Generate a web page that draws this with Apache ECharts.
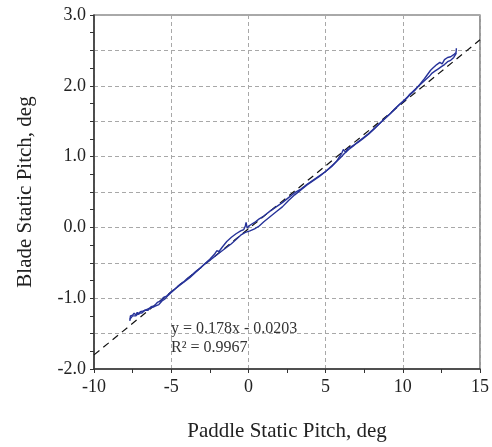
<!DOCTYPE html>
<html>
<head>
<meta charset="utf-8">
<script src="https://cdn.jsdelivr.net/npm/echarts@6/dist/echarts.min.js"></script>
<style>
  html, body { margin: 0; padding: 0; background: #fff; }
  #chart { width: 492px; height: 447px; }
</style>
</head>
<body>
<div id="chart"></div>
<script>
// Paddle vs blade static pitch, recorded while sweeping up then back down
const paddleUp = [-7.68, -7.64, -7.50, -7.40, -7.30, -7.20, -7.10, -7.00, -6.90, -6.80, -6.70, -6.60, -6.50, -6.40, -6.30, -6.20, -6.10, -6.00, -5.80, -5.60, -5.40, -5.20, -5.00, -4.80, -4.60, -4.40, -4.20, -4.00, -3.70, -3.40, -3.10, -2.80, -2.50, -2.20, -2.05, -1.95, -1.90, -1.70, -1.40, -1.10, -0.80, -0.50, -0.30, -0.20, -0.15, -0.08, 0.10, 0.40, 0.70, 1.00, 1.40, 1.80, 2.20, 2.60, 3.00, 3.40, 3.80, 4.20, 4.60, 5.00, 5.40, 5.70, 5.90, 6.05, 6.15, 6.30, 6.45, 6.60, 6.80, 7.10, 7.40, 7.80, 8.20, 8.60, 9.00, 9.40, 9.80, 10.10, 10.40, 10.60, 10.80, 11.10, 11.40, 11.60, 11.80, 11.95, 12.05, 12.20, 12.40, 12.55, 12.70, 12.90, 13.10, 13.30, 13.45, 13.47];
const bladeUp = [-1.32, -1.25, -1.24, -1.21, -1.24, -1.20, -1.23, -1.19, -1.21, -1.18, -1.20, -1.16, -1.18, -1.14, -1.16, -1.13, -1.14, -1.11, -1.09, -1.04, -1.01, -0.96, -0.92, -0.88, -0.84, -0.80, -0.77, -0.73, -0.68, -0.62, -0.57, -0.51, -0.45, -0.38, -0.33, -0.31, -0.34, -0.28, -0.20, -0.14, -0.09, -0.05, -0.03, 0.02, 0.07, -0.01, 0.03, 0.07, 0.12, 0.16, 0.23, 0.29, 0.35, 0.42, 0.49, 0.54, 0.61, 0.67, 0.73, 0.79, 0.86, 0.93, 1.00, 1.05, 1.10, 1.06, 1.12, 1.13, 1.16, 1.20, 1.25, 1.32, 1.40, 1.49, 1.57, 1.65, 1.74, 1.79, 1.86, 1.90, 1.94, 2.02, 2.10, 2.16, 2.22, 2.25, 2.23, 2.30, 2.33, 2.31, 2.37, 2.40, 2.41, 2.44, 2.47, 2.53];

const paddleDown = [13.47, 13.30, 13.10, 12.90, 12.70, 12.50, 12.30, 12.10, 11.90, 11.70, 11.40, 11.10, 10.80, 10.60, 10.45, 10.30, 10.10, 9.80, 9.50, 9.20, 8.90, 8.60, 8.30, 8.00, 7.70, 7.40, 7.10, 6.80, 6.50, 6.20, 5.90, 5.60, 5.30, 5.00, 4.60, 4.20, 3.80, 3.40, 3.00, 2.60, 2.20, 1.80, 1.40, 1.00, 0.70, 0.40, 0.10, -0.20, -0.50, -0.80, -1.10, -1.40, -1.70, -2.00, -2.30, -2.60, -2.90, -3.20, -3.50, -3.80, -4.10, -4.40, -4.70, -5.00, -5.30, -5.50, -5.70, -5.90, -6.10, -6.30, -6.50, -6.70, -6.90, -7.10, -7.30, -7.50, -7.68];
const bladeDown = [2.46, 2.40, 2.36, 2.34, 2.30, 2.27, 2.24, 2.21, 2.18, 2.13, 2.07, 2.01, 1.95, 1.91, 1.88, 1.84, 1.80, 1.74, 1.68, 1.61, 1.55, 1.49, 1.43, 1.37, 1.31, 1.26, 1.21, 1.15, 1.10, 1.04, 0.97, 0.91, 0.85, 0.79, 0.72, 0.66, 0.60, 0.53, 0.46, 0.38, 0.29, 0.22, 0.15, 0.08, 0.02, -0.02, -0.05, -0.07, -0.11, -0.17, -0.23, -0.28, -0.33, -0.38, -0.43, -0.48, -0.53, -0.59, -0.65, -0.71, -0.76, -0.81, -0.86, -0.91, -0.97, -0.99, -1.04, -1.06, -1.11, -1.12, -1.17, -1.17, -1.21, -1.21, -1.25, -1.25, -1.30];

// Linear fit reported on the chart
const fitSlope = 0.178;
const fitIntercept = -0.0203;
const fitR2 = 0.9967;
const fitRange = [-10, 15];

const xTicks = [-10, -5, 0, 5, 10, 15];
const yTicks = [-2.0, -1.0, 0.0, 1.0, 2.0, 3.0];

const zip = (xs, ys) => xs.map((x, i) => [x, ys[i]]);
const fitLine = fitRange.map(x => [x, fitSlope * x + fitIntercept]);

const serif = '"Liberation Serif", "Times New Roman", serif';
const axisColor = '#333';
const gridStyle = { color: '#a8a8a8', type: [4, 3], width: 1 };
const traceColor = '#27339a';

const chart = echarts.init(document.getElementById('chart'), null, { renderer: 'canvas' });
chart.setOption({
  animation: false,
  backgroundColor: '#fff',
  grid: { left: 94, right: 9, top: 15, bottom: 76, show: true, borderColor: '#555', borderWidth: 1.2 },
  xAxis: {
    type: 'value', min: -10, max: 15, interval: 5,
    name: 'Paddle Static Pitch, deg', nameLocation: 'middle', nameGap: 52,
    nameTextStyle: { fontFamily: serif, fontSize: 21, color: '#222' },
    axisLine: { show: true, onZero: false, lineStyle: { color: axisColor, width: 1.5 } },
    axisTick: { show: true, inside: false, length: 4, lineStyle: { color: axisColor } },
    minorTick: { show: true, splitNumber: 2, length: 4, lineStyle: { color: axisColor } },
    axisLabel: {
      fontFamily: serif, fontSize: 18, color: '#222', margin: 9,
      formatter: v => xTicks.includes(v) ? String(v) : ''
    },
    splitLine: { show: true, lineStyle: gridStyle }
  },
  yAxis: {
    type: 'value', min: -2, max: 3, interval: 0.5,
    name: 'Blade Static Pitch, deg', nameLocation: 'middle', nameGap: 58,
    nameTextStyle: { fontFamily: serif, fontSize: 21, color: '#222' },
    axisLine: { show: true, onZero: false, lineStyle: { color: axisColor, width: 1.5 } },
    axisTick: { show: true, inside: false, length: 4, lineStyle: { color: axisColor } },
    minorTick: { show: true, splitNumber: 2, length: 4, lineStyle: { color: axisColor } },
    axisLabel: {
      fontFamily: serif, fontSize: 18, color: '#222', margin: 8,
      formatter: v => yTicks.some(t => Math.abs(t - v) < 1e-9) ? v.toFixed(1) : ''
    },
    splitLine: { show: true, lineStyle: gridStyle }
  },
  series: [
    {
      name: 'fit', type: 'line', data: fitLine, symbol: 'none', silent: true,
      lineStyle: { color: '#111', width: 1.2, type: [7, 5] }, z: 3
    },
    {
      name: 'up', type: 'line', data: zip(paddleUp, bladeUp), symbol: 'none',
      lineStyle: { color: traceColor, width: 1.4 }, z: 4
    },
    {
      name: 'down', type: 'line', data: zip(paddleDown, bladeDown), symbol: 'none',
      lineStyle: { color: traceColor, width: 1.4 }, z: 4
    }
  ],
  graphic: [
    {
      type: 'text', left: 171, top: 321, z: 10,
      style: { text: 'y = ' + fitSlope + 'x - ' + Math.abs(fitIntercept), fontFamily: serif, fontSize: 16, fill: '#333' }
    },
    {
      type: 'text', left: 171, top: 340, z: 10,
      style: { text: 'R\u00B2 = ' + fitR2, fontFamily: serif, fontSize: 16, fill: '#333' }
    }
  ]
});
</script>
</body>
</html>
